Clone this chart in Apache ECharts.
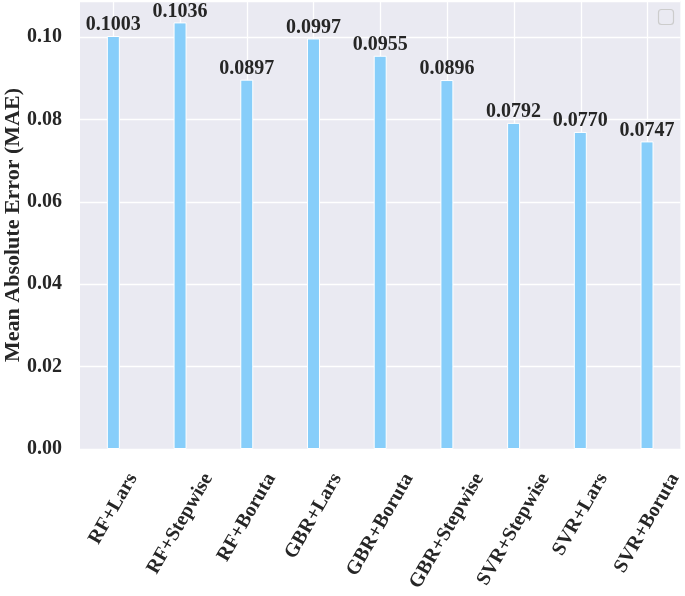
<!DOCTYPE html>
<html>
<head>
<meta charset="utf-8">
<script src="https://cdn.jsdelivr.net/npm/echarts@6/dist/echarts.min.js"></script>
<style>html,body{margin:0;padding:0;background:#fff;}#c{width:685px;height:596px;}</style>
</head>
<body>
<div id="c"></div>
<script>
const categories = ['RF+Lars','RF+Stepwise','RF+Boruta','GBR+Lars','GBR+Boruta','GBR+Stepwise','SVR+Stepwise','SVR+Lars','SVR+Boruta'];
const maeValues = [0.1003, 0.1036, 0.0897, 0.0997, 0.0955, 0.0896, 0.0792, 0.0770, 0.0747];
const yTicks = [0.00, 0.02, 0.04, 0.06, 0.08, 0.10];
const yTitle = 'Mean Absolute Error (MAE)';

const FONT = '"Liberation Serif", "Times New Roman", serif';
const FS = 20;
const TXT = '#262626';

// per-label offsets so rotated labels are centred under their ticks (like matplotlib ha="center")
const ctx = document.createElement('canvas').getContext('2d');
ctx.font = 'bold ' + FS + 'px ' + FONT;
const rich = {};
categories.forEach((c, i) => {
  const L = ctx.measureText(c).width;
  const D = 0.433 * L;
  rich['l' + i] = {
    fontFamily: FONT, fontWeight: 'bold', fontSize: FS, color: TXT,
    padding: [D, 1.732 * D, 0, 0]
  };
});

const chart = echarts.init(document.getElementById('c'), null, {renderer: 'canvas'});
chart.setOption({
  animation: false,
  backgroundColor: '#ffffff',
  grid: [
    {left: 80, right: 4, top: 1, bottom: 147, show: true, backgroundColor: '#EAEAF2', borderWidth: 0},
    {left: 80 + 601 / 18, right: 4 + 601 / 18, top: 1, bottom: 147, show: false}
  ],
  xAxis: [
    {
      type: 'category',
      gridIndex: 0,
      data: categories,
      boundaryGap: true,
      axisLine: {show: false},
      axisTick: {show: false},
      splitLine: {show: false},
      axisLabel: {
        interval: 0,
        rotate: 60,
        align: 'center',
        verticalAlign: 'middle',
        margin: 26,
        fontFamily: FONT, fontWeight: 'bold', fontSize: FS, color: TXT,
        formatter: (v, i) => '{l' + i + '|' + v + '}',
        rich: rich
      }
    },
    {
      type: 'value',
      gridIndex: 1,
      min: 0,
      max: categories.length - 1,
      interval: 1,
      axisLine: {show: false},
      axisTick: {show: false},
      axisLabel: {show: false},
      splitLine: {show: true, showMinLine: true, showMaxLine: true, lineStyle: {color: '#ffffff', width: 1.3}}
    }
  ],
  yAxis: [
    {
      type: 'value',
      gridIndex: 0,
      min: 0,
      max: 0.1088,
      interval: 0.02,
      axisLine: {show: false},
      axisTick: {show: false},
      splitLine: {show: true, lineStyle: {color: '#ffffff', width: 1.3}},
      axisLabel: {
        margin: 18,
        fontFamily: FONT, fontWeight: 'bold', fontSize: FS, color: TXT,
        showMaxLabel: false,
        formatter: v => {
          const t = yTicks.find(x => Math.abs(x - v) < 1e-9);
          return t === undefined ? '' : t.toFixed(2);
        }
      }
    },
    {
      type: 'value',
      gridIndex: 1,
      min: 0, max: 1,
      show: false,
      splitLine: {show: false}
    }
  ],
  graphic: [
    {
      type: 'text',
      x: 13, y: 225,
      rotation: Math.PI / 2,
      style: {
        text: yTitle,
        fontFamily: FONT, fontWeight: 'bold', fontSize: 22, fill: TXT,
        align: 'center', verticalAlign: 'middle'
      }
    },
    {
      type: 'rect',
      shape: {x: 658.5, y: 9.5, width: 15, height: 15, r: 3},
      style: {fill: '#EAEAF2', stroke: '#cccccc', lineWidth: 1.2}
    }
  ],
  series: [
    {
      type: 'bar',
      xAxisIndex: 0,
      yAxisIndex: 0,
      z: 3,
      data: maeValues,
      barWidth: 13,
      itemStyle: {color: '#87CEFA', borderColor: '#ffffff', borderWidth: 1},
      label: {
        show: true,
        position: 'top',
        distance: 1,
        fontFamily: FONT, fontWeight: 'bold', fontSize: FS, color: TXT,
        formatter: p => p.value.toFixed(4)
      }
    }
  ]
});
</script>
</body>
</html>
